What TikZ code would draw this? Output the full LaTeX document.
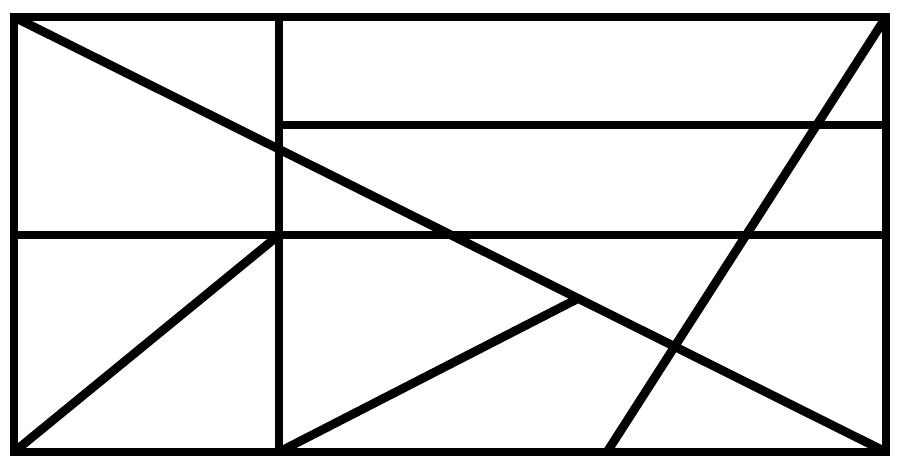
\documentclass[tikz,border=0pt]{standalone}
\usetikzlibrary{calc}
\begin{document}
\begin{tikzpicture}
[lineDecorate/.style={-,line width=5pt},%
  frameDecorate/.style={draw,line width=5pt,line join=miter},
  x=0.02cm,y=-0.02cm]
\useasboundingbox (0,0) rectangle (900,464);
%% corner and split points
\foreach \ptname/\x/\y in {
  tl/14/17, tr/886/17, br/886/452, bl/14/452,
  vt/279/17, vm/279/235, vb/279/452,
  ml/14/235, mr/886/235, ul/279/125, ur/886/125,
  sb/607/452}
{
  \coordinate (\ptname) at (\x,\y);
}
\coordinate (dp) at ($(tl)!0.647!(br)$);
%% frame
\path[frameDecorate] (tl) -- (tr) -- (br) -- (bl) -- cycle;
%% inner lines
\path
\foreach \startpt/\endpt in {
  vt/vb, ml/mr, ul/ur, tl/br, bl/vm, vb/dp, tr/sb}
{
  (\startpt) edge[lineDecorate] (\endpt)
};
\end{tikzpicture}
\end{document}
